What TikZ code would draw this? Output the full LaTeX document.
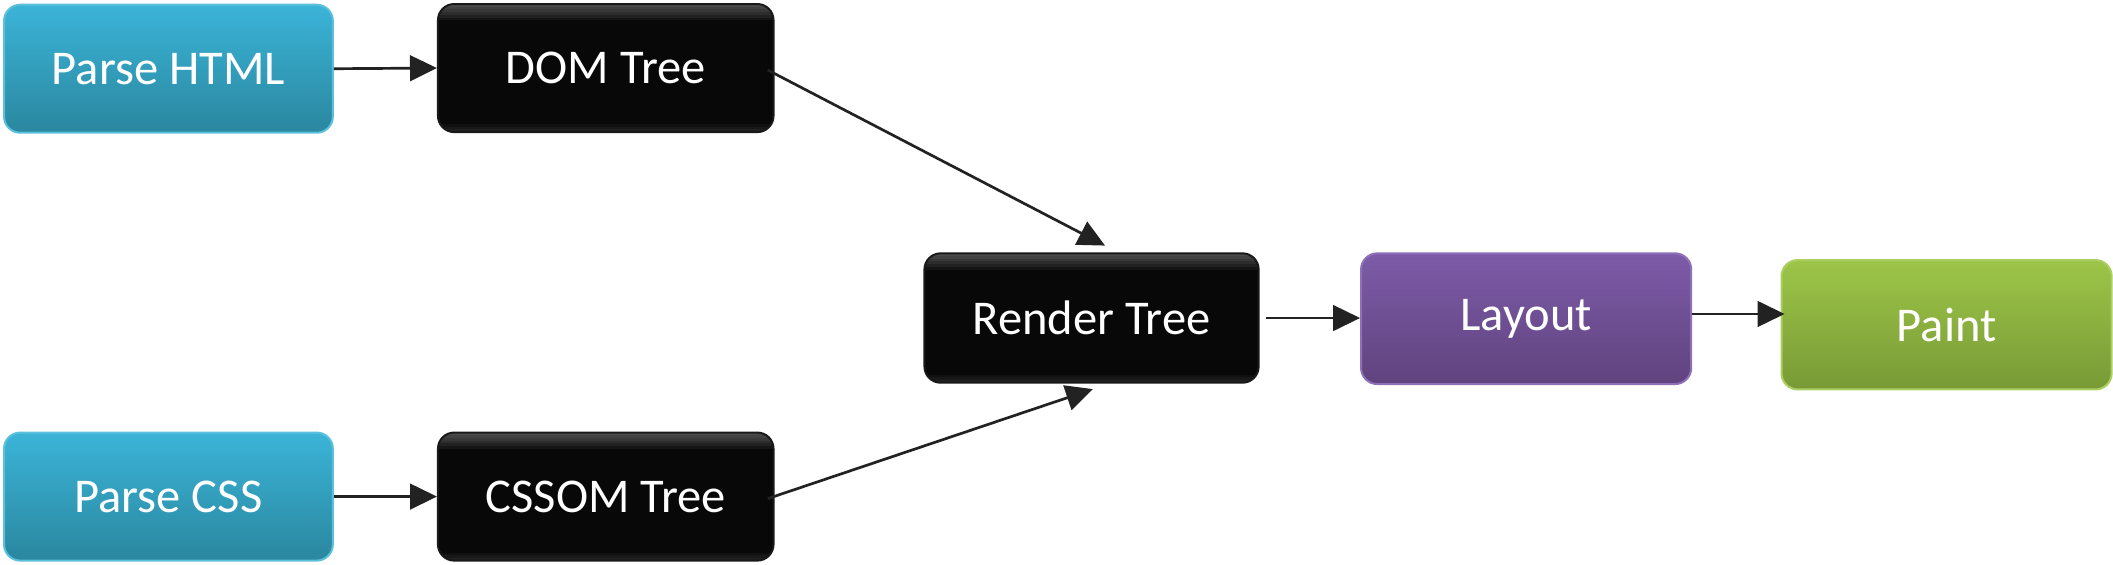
\documentclass[tikz,border=0pt]{standalone}
\usepackage{fontspec}
\setmainfont{Carlito}
\usetikzlibrary{arrows.meta}
\definecolor{cyanTop}{HTML}{3BB4D8}
\definecolor{cyanBot}{HTML}{2A879F}
\definecolor{cyanEdge}{HTML}{5CC0DC}
\definecolor{purTop}{HTML}{7D5BA8}
\definecolor{purBot}{HTML}{60437E}
\definecolor{purEdge}{HTML}{8E70B8}
\definecolor{grnTop}{HTML}{9DC548}
\definecolor{grnBot}{HTML}{789A36}
\definecolor{grnEdge}{HTML}{AACE62}
\definecolor{arrowc}{HTML}{222222}
\tikzset{
  box/.style={rounded corners=12pt, text=white, font=\fontsize{36}{40}\selectfont, inner sep=0pt, line width=1.5pt},
  cyanbox/.style={box, draw=cyanEdge, top color=cyanTop, bottom color=cyanBot, minimum width=244pt, minimum height=95pt},
  blackbox/.style={box, draw=black!90, fill=black!97, minimum width=249pt, minimum height=95pt,
    path picture={
      \foreach \h in {2,4,6,8,10,12}{
        \fill[white, opacity=0.055, sharp corners] (path picture bounding box.north west) rectangle ([yshift=-\h pt]path picture bounding box.north east);
      }
      \foreach \h in {2,4,6}{
        \fill[white, opacity=0.035, sharp corners] (path picture bounding box.south west) rectangle ([yshift=\h pt]path picture bounding box.south east);
      }
    }},
  purbox/.style={box, draw=purEdge, top color=purTop, bottom color=purBot, minimum width=245pt, minimum height=97pt},
  grnbox/.style={box, draw=grnEdge, top color=grnTop, bottom color=grnBot, minimum width=245pt, minimum height=96pt},
  flow/.style={draw=arrowc, line width=2pt, -{Triangle[length=20pt,width=19pt]}}
}
\begin{document}
\begin{tikzpicture}[x=1pt,y=-1pt]
\useasboundingbox (0,0) rectangle (1568,419);
\node[cyanbox] (phtml) at (125,51) {Parse HTML};
\node[blackbox] (dom) at (449.5,50.5) {DOM Tree};
\node[blackbox, minimum width=248pt, minimum height=96pt] (render) at (810,236) {Render Tree};
\node[purbox] (layout) at (1132.5,236.5) {Layout};
\node[grnbox] (paint) at (1444.5,241) {Paint};
\node[cyanbox] (pcss) at (125,368.5) {Parse CSS};
\node[blackbox] (cssom) at (449.5,368.5) {CSSOM Tree};

\draw[flow] (phtml.east) -- (dom.west);
\draw[flow] (pcss.east) -- (cssom.west);
\draw[flow] ([xshift=-5pt,yshift=-1.5pt]dom.east) -- ([xshift=10pt,yshift=5pt]render.north);
\draw[flow] ([xshift=-5pt,yshift=-1.5pt]cssom.east) -- ([xshift=1pt,yshift=-4pt]render.south);
\draw[flow] ([xshift=5pt]render.east) -- (layout.west |- render.east);
\coordinate (lp) at ([yshift=3.5pt]layout.east);
\draw[flow] (lp) -- ([xshift=3pt]lp -| paint.west);
\end{tikzpicture}
\end{document}
